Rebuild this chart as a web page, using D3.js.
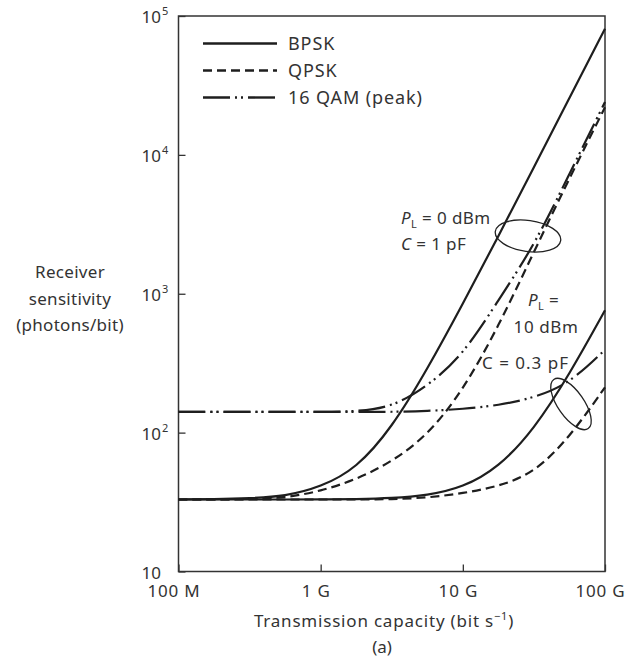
<!DOCTYPE html>
<html>
<head>
<meta charset="utf-8">
<script src="https://cdn.jsdelivr.net/npm/d3@7"></script>
<style>
body { margin: 0; background: #fff; }
text { font-family: "Noto Sans", sans-serif; fill: #333; }
</style>
</head>
<body>
<svg class="chart"></svg>
<script>
var width = 634;
var height = 662;

// capacity in bit/s (x) and receiver sensitivity in photons/bit (y)
var capacity = [1e8, 1.78e8, 3.16e8, 5.62e8, 1e9, 1.78e9, 3.16e9, 5.62e9, 1e10, 1.78e10, 3.16e10, 5.62e10, 1e11];
// P_L = 0 dBm, C = 1 pF
var bpskHigh = [33, 33.2, 33.7, 34.8, 40.5, 55, 108, 285, 845, 2600, 8150, 25700, 81000];
var qpskHigh = [33, 33, 33.2, 33.9, 37.9, 45.9, 61.6, 95, 200, 580, 2000, 6800, 22000];
var qamHigh = [141, 141, 141, 141, 141, 142, 152, 215, 360, 900, 2200, 7300, 24000];
// P_L = 10 dBm, C = 0.3 pF
var bpskLow = [33, 33, 33, 33, 33, 33.2, 33.7, 35.3, 40.2, 56, 105, 262, 760];
var qpskLow = [33, 33, 33, 33, 33, 33, 33.1, 34, 36.5, 41, 51, 92, 212];
var qamLow = [141, 141, 141, 141, 141, 141, 141, 143, 148, 157, 178, 225, 395];

var xTicks = [1e8, 1e9, 1e10, 1e11];
var xTickLabels = ["100 M", "1 G", "10 G", "100 G"];
var yTicks = [10, 1e2, 1e3, 1e4, 1e5];
var yTickExp = ["", "2", "3", "4", "5"];
var legendNames = ["BPSK", "QPSK", "16 QAM (peak)"];

var dashes = ["none", "9,5", "27,5,2,4,2,5"];

var series = [
    {vals: bpskHigh, kind: 0},
    {vals: qpskHigh, kind: 1},
    {vals: qamHigh, kind: 2},
    {vals: bpskLow, kind: 0},
    {vals: qpskLow, kind: 1},
    {vals: qamLow, kind: 2}
];

// plot box (pixels)
var boxL = 178.5, boxR = 605, boxT = 16, boxB = 571.5;

var x = d3.scaleLog().domain([1e8, 1e11]).range([boxL, boxR]);
var y = d3.scaleLog().domain([10, 1e5]).range([boxB, boxT]);

var chart = d3.select(".chart")
    .attr("width", width)
    .attr("height", height);

chart.append("rect")
    .attr("width", width).attr("height", height)
    .attr("fill", "#fff");

// x axis
var xAxis = chart.append("g")
    .attr("transform", "translate(0," + boxB + ")")
    .call(d3.axisBottom(x)
        .tickValues(xTicks)
        .tickSizeInner(-7)
        .tickSizeOuter(0)
        .tickFormat(function(d, i) { return xTickLabels[i]; }));
xAxis.select(".domain").remove();
xAxis.selectAll(".tick line").attr("stroke", "#333").attr("stroke-width", 1.3);
xAxis.selectAll(".tick text")
    .attr("y", 25).attr("dy", 0).attr("dx", -5)
    .attr("font-size", 17).attr("font-family", null)
    .attr("fill", "#333").style("letter-spacing", "0.8px");

// y axis
var yAxis = chart.append("g")
    .attr("transform", "translate(" + boxL + ",0)")
    .call(d3.axisLeft(y)
        .tickValues(yTicks)
        .tickSizeInner(-7)
        .tickSizeOuter(0)
        .tickFormat(function() { return ""; }));
yAxis.select(".domain").remove();
yAxis.selectAll(".tick line").attr("stroke", "#333").attr("stroke-width", 1.3);
yAxis.selectAll(".tick text").each(function(d, i) {
    var t = d3.select(this)
        .attr("text-anchor", "start")
        .attr("x", -37).attr("dy", 0).attr("y", 6.5)
        .attr("font-size", 17).attr("font-family", null)
        .attr("fill", "#333");
    t.append("tspan").text("10");
    if (yTickExp[i]) {
        t.append("tspan").attr("font-size", 11).attr("dy", -8).attr("dx", 1).text(yTickExp[i]);
    }
});

// frame
chart.append("rect")
    .attr("x", boxL).attr("y", boxT)
    .attr("width", boxR - boxL).attr("height", boxB - boxT)
    .attr("fill", "none")
    .attr("stroke", "#333")
    .attr("stroke-width", 1.5);

// curves
var line = d3.line()
    .x(function(d) { return x(d[0]); })
    .y(function(d) { return y(d[1]); })
    .curve(d3.curveBasis);

chart.append("g").selectAll("path.curve")
    .data(series)
    .enter()
    .append("path")
    .attr("class", "curve")
    .attr("fill", "none")
    .attr("stroke", "#1e1e1e")
    .attr("stroke-width", 2.2)
    .attr("stroke-dasharray", function(d) { return dashes[d.kind]; })
    .attr("d", function(d) {
        return line(d.vals.map(function(v, i) { return [capacity[i], v]; }));
    });

// legend
var legend = chart.append("g").selectAll("g")
    .data(legendNames)
    .enter()
    .append("g")
    .attr("transform", function(d, i) { return "translate(0," + (43.5 + i * 27) + ")"; });
legend.append("line")
    .attr("x1", 203).attr("x2", 277)
    .attr("stroke", "#1e1e1e").attr("stroke-width", 2.4)
    .attr("stroke-dasharray", function(d, i) { return dashes[i]; });
legend.append("text")
    .attr("x", 288).attr("y", 6.5)
    .attr("font-size", 18)
    .style("letter-spacing", "0.9px")
    .text(function(d) { return d; });

// annotation lassos
chart.append("ellipse")
    .attr("cx", 528).attr("cy", 236).attr("rx", 33).attr("ry", 15.5)
    .attr("transform", "rotate(8,528,236)")
    .attr("fill", "none").attr("stroke", "#222").attr("stroke-width", 1.3);
chart.append("ellipse")
    .attr("cx", 571).attr("cy", 404).attr("rx", 30).attr("ry", 13)
    .attr("transform", "rotate(55,571,404)")
    .attr("fill", "none").attr("stroke", "#222").attr("stroke-width", 1.3);

function plText(xp, yp, rest) {
    var t = chart.append("text").attr("x", xp).attr("y", yp).attr("font-size", 17)
        .style("letter-spacing", "0.4px");
    t.append("tspan").attr("font-style", "italic").text("P");
    t.append("tspan").attr("font-size", 11).attr("dy", 4).text("L");
    t.append("tspan").attr("dy", -4).text(rest);
}
plText(401, 224, " = 0 dBm");
var c1 = chart.append("text").attr("x", 401).attr("y", 250).attr("font-size", 17).style("letter-spacing", "0.4px");
c1.append("tspan").attr("font-style", "italic").text("C");
c1.append("tspan").text(" = 1 pF");
plText(528, 306, " =");
chart.append("text").attr("x", 546).attr("y", 333).attr("text-anchor", "middle")
    .attr("font-size", 17).style("letter-spacing", "0.6px").text("10 dBm");
var c2 = chart.append("text").attr("x", 482).attr("y", 369).attr("font-size", 17).style("letter-spacing", "1px");
c2.append("tspan").text("C");
c2.append("tspan").text(" = 0.3 pF");

// axis titles
var yTitle = chart.append("text")
    .attr("text-anchor", "middle")
    .attr("font-size", 17)
    .style("letter-spacing", "0.3px");
["Receiver", "sensitivity", "(photons/bit)"].forEach(function(s, i) {
    yTitle.append("tspan").attr("x", 70).attr("y", 278 + i * 26.5).text(s);
});

var xTitle = chart.append("text")
    .attr("x", 384).attr("y", 627)
    .attr("text-anchor", "middle")
    .attr("font-size", 17)
    .style("letter-spacing", "0.8px");
xTitle.append("tspan").text("Transmission capacity (bit s");
xTitle.append("tspan").attr("font-size", 11).attr("dy", -7).text("\u22121");
xTitle.append("tspan").attr("dy", 7).text(")");

chart.append("text")
    .attr("x", 382).attr("y", 653)
    .attr("text-anchor", "middle")
    .attr("font-size", 17)
    .text("(a)");
</script>
</body>
</html>
